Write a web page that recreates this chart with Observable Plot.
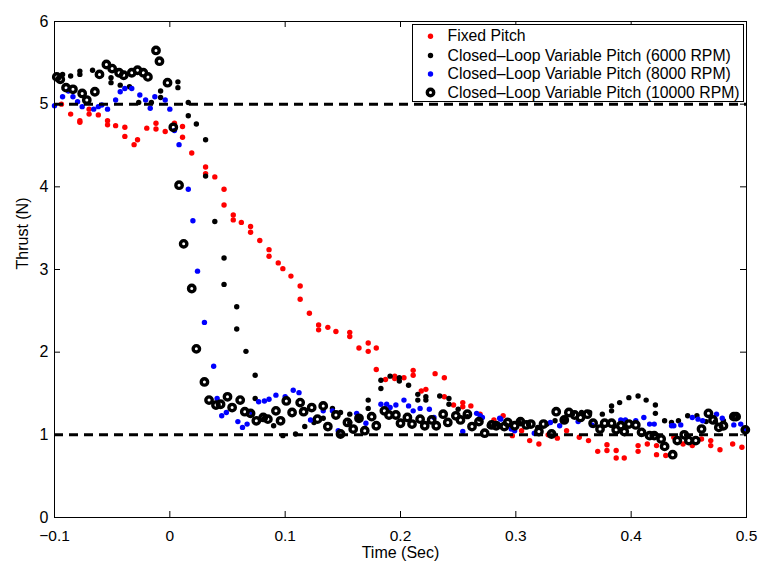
<!DOCTYPE html>
<html>
<head>
<meta charset="utf-8">
<script src="https://cdn.jsdelivr.net/npm/d3@7"></script>
<script src="https://cdn.jsdelivr.net/npm/@observablehq/plot@0.6"></script>
<style>
  html, body { margin: 0; padding: 0; background: #fff; }
  #chart { width: 771px; height: 570px; }
  svg { font-family: "Liberation Sans", Arial, Helvetica, sans-serif; }
</style>
</head>
<body>
<div id="chart"></div>
<script>
// ---- Data: [time (s), thrust (N)] ----
const fixedPitch = [
  [-0.094,5.00],[-0.086,4.88],[-0.078,4.80],[-0.078,4.78],[-0.070,4.94],[-0.070,4.88],[-0.062,4.87],[-0.054,4.80],[-0.054,4.75],
  [-0.047,4.74],[-0.039,4.72],[-0.039,4.61],[-0.031,4.51],[-0.028,4.57],[-0.020,4.71],[-0.012,4.77],[-0.012,4.70],[-0.004,4.67],
  [0.004,4.77],[0.011,4.73],[0.011,4.60],[0.019,4.41],[0.031,4.24],[0.031,4.16],[0.039,4.12],[0.047,3.97],[0.047,3.78],
  [0.055,3.66],[0.055,3.60],[0.062,3.57],[0.070,3.52],[0.070,3.45],[0.078,3.35],[0.086,3.24],[0.086,3.16],[0.094,3.08],
  [0.098,3.01],[0.105,2.92],[0.113,2.80],[0.113,2.64],[0.121,2.47],[0.129,2.33],[0.129,2.27],[0.137,2.30],[0.144,2.25],
  [0.156,2.24],[0.156,2.19],[0.164,2.05],[0.172,2.11],[0.172,2.01],[0.179,2.05],[0.179,1.79],[0.187,1.67],[0.195,1.71],
  [0.195,1.68],[0.203,1.69],[0.211,1.78],[0.211,1.72],[0.218,1.53],[0.222,1.55],[0.230,1.74],[0.238,1.69],[0.238,1.46],
  [0.246,1.36],[0.254,1.39],[0.254,1.34],[0.261,1.35],[0.269,1.25],[0.281,1.18],[0.289,1.23],[0.297,0.99],[0.305,1.05],
  [0.312,0.93],[0.320,0.89],[0.328,1.00],[0.336,0.96],[0.344,1.05],[0.355,0.97],[0.363,0.93],[0.371,0.80],[0.379,0.88],
  [0.379,0.81],[0.387,0.81],[0.387,0.72],[0.394,0.72],[0.406,0.87],[0.406,0.80],[0.414,0.89],[0.422,0.87],[0.422,0.76],
  [0.430,0.75],[0.437,0.97],[0.445,0.89],[0.453,0.87],[0.461,0.95],[0.469,0.93],[0.469,0.87],[0.477,0.82],[0.488,0.89],
  [0.496,0.85]
];

const rpm6000 = [
  [-0.093,5.36],[-0.086,5.34],[-0.078,5.40],[-0.078,5.36],[-0.067,5.41],[-0.051,5.32],[-0.051,5.26],[-0.043,5.23],
  [-0.035,5.21],[-0.027,5.02],[-0.016,5.02],[-0.008,5.16],[-0.008,5.08],[0.007,5.27],[0.007,5.20],[0.016,5.02],
  [0.016,4.86],[0.023,4.76],[0.031,4.57],[0.031,4.13],[0.039,3.58],[0.047,3.14],[0.047,2.82],[0.058,2.55],[0.058,2.28],
  [0.066,2.01],[0.074,1.72],[0.074,1.44],[0.082,1.20],[0.090,1.11],[0.098,0.99],[0.109,1.01],[0.117,1.10],[0.125,1.15],
  [0.133,1.20],[0.141,1.32],[0.148,1.27],[0.156,1.25],[0.156,1.15],[0.164,1.20],[0.172,1.42],[0.172,1.32],[0.183,1.66],
  [0.183,1.56],[0.191,1.71],[0.199,1.69],[0.199,1.65],[0.207,1.60],[0.215,1.49],[0.215,1.42],[0.222,1.46],[0.222,1.42],
  [0.234,1.47],[0.242,1.44],[0.242,1.37],[0.250,1.31],[0.258,1.22],[0.269,1.19],[0.277,1.11],[0.285,1.12],[0.295,1.11],
  [0.303,1.15],[0.311,1.13],[0.319,1.09],[0.327,1.13],[0.334,1.17],[0.342,1.17],[0.349,1.25],[0.357,1.27],[0.364,1.27],
  [0.375,1.25],[0.383,1.35],[0.383,1.29],[0.390,1.39],[0.398,1.45],[0.406,1.47],[0.413,1.42],[0.421,1.36],[0.421,1.26],
  [0.429,1.17],[0.435,1.15],[0.441,1.17],[0.449,1.23],[0.457,1.23],[0.465,1.16],[0.473,1.16],[0.480,1.17],[0.488,1.23]
];

const rpm8000 = [
  [-0.100,4.98],[-0.093,5.09],[-0.088,5.16],[-0.084,5.09],[-0.080,5.03],[-0.076,4.97],[-0.066,4.94],[-0.062,4.97],
  [-0.059,4.99],[-0.054,4.94],[-0.047,5.05],[-0.043,5.15],[-0.039,5.19],[-0.033,5.19],[-0.026,5.11],[-0.021,5.05],
  [-0.017,4.95],[-0.013,5.09],[-0.004,5.05],[0.000,4.94],[0.004,4.68],[0.008,4.51],[0.016,3.97],[0.020,3.59],
  [0.024,2.98],[0.030,2.36],[0.038,1.83],[0.041,1.44],[0.045,1.23],[0.049,1.27],[0.059,1.16],[0.063,1.09],[0.067,1.13],
  [0.071,1.27],[0.077,1.40],[0.082,1.41],[0.086,1.43],[0.092,1.48],[0.100,1.46],[0.107,1.54],[0.112,1.51],[0.122,1.18],
  [0.133,1.29],[0.141,1.29],[0.146,1.05],[0.162,1.26],[0.170,1.14],[0.183,1.37],[0.188,1.37],[0.191,1.33],[0.196,1.36],
  [0.203,1.42],[0.207,1.35],[0.211,1.29],[0.217,1.32],[0.225,1.31],[0.229,1.21],[0.254,1.04],[0.266,1.26],[0.269,1.23],
  [0.271,1.21],[0.286,1.20],[0.287,1.19],[0.296,1.07],[0.299,1.05],[0.316,1.02],[0.330,1.15],[0.338,1.11],[0.354,1.16],
  [0.366,1.12],[0.391,1.18],[0.395,1.18],[0.404,1.17],[0.411,1.21],[0.416,1.13],[0.420,1.13],[0.435,1.11],[0.437,1.11],
  [0.443,1.12],[0.453,1.21],[0.458,1.19],[0.462,1.17],[0.474,1.25],[0.479,1.20],[0.489,1.12],[0.495,1.13],[0.498,1.07]
];

const rpm10000 = [
  [-0.098,5.33],[-0.095,5.30],[-0.090,5.20],[-0.084,5.18],[-0.076,5.13],[-0.072,5.05],[-0.065,5.15],[-0.061,5.36],
  [-0.055,5.48],[-0.050,5.43],[-0.044,5.38],[-0.040,5.35],[-0.033,5.38],[-0.028,5.41],[-0.023,5.38],[-0.019,5.33],
  [-0.012,5.65],[-0.009,5.52],[-0.002,5.26],[0.003,4.72],[0.008,4.02],[0.012,3.31],[0.019,2.77],[0.023,2.04],
  [0.030,1.64],[0.034,1.42],[0.040,1.36],[0.044,1.37],[0.050,1.46],[0.054,1.33],[0.061,1.42],[0.065,1.28],[0.070,1.26],
  [0.075,1.17],[0.081,1.21],[0.085,1.19],[0.092,1.29],[0.096,1.17],[0.101,1.41],[0.106,1.27],[0.113,1.39],[0.116,1.28],
  [0.123,1.33],[0.128,1.19],[0.133,1.35],[0.137,1.10],[0.144,1.24],[0.148,1.01],[0.154,1.15],[0.159,1.07],[0.164,1.20],
  [0.169,1.05],[0.175,1.22],[0.179,1.11],[0.186,1.29],[0.190,1.24],[0.196,1.24],[0.200,1.14],[0.206,1.21],[0.210,1.13],
  [0.217,1.19],[0.221,1.11],[0.227,1.18],[0.231,1.11],[0.237,1.25],[0.241,1.15],[0.248,1.23],[0.252,1.18],[0.258,1.25],
  [0.262,1.10],[0.268,1.16],[0.273,1.02],[0.279,1.12],[0.283,1.11],[0.290,1.10],[0.293,1.15],[0.299,1.11],[0.304,1.16],
  [0.309,1.12],[0.313,1.13],[0.320,1.04],[0.324,1.13],[0.331,1.01],[0.335,1.28],[0.342,1.18],[0.346,1.27],[0.351,1.24],
  [0.356,1.21],[0.362,1.25],[0.367,1.14],[0.373,1.07],[0.377,1.14],[0.383,1.14],[0.387,1.06],[0.391,1.11],[0.394,1.04],
  [0.398,1.13],[0.404,1.12],[0.409,1.03],[0.416,0.99],[0.420,0.99],[0.426,0.95],[0.429,0.86],[0.436,0.76],[0.440,0.93],
  [0.446,1.00],[0.450,0.93],[0.456,0.93],[0.461,1.07],[0.467,1.26],[0.471,1.18],[0.476,1.09],[0.480,1.11],[0.489,1.22],
  [0.491,1.22],[0.499,1.06]
];

const referenceLevels = [1, 5];
const xTicks = [-0.1, 0, 0.1, 0.2, 0.3, 0.4, 0.5];
const xTickLabels = ["\u22120.1", "0", "0.1", "0.2", "0.3", "0.4", "0.5"];
const yTicks = [0, 1, 2, 3, 4, 5, 6];
const yTickLabels = ["0", "1", "2", "3", "4", "5", "6"];
const legendLabels = [
  "Fixed Pitch",
  "Closed\u2013Loop Variable Pitch (6000 RPM)",
  "Closed\u2013Loop Variable Pitch (8000 RPM)",
  "Closed\u2013Loop Variable Pitch (10000 RPM)"
];
const xLabel = "Time (Sec)";
const yLabel = "Thrust (N)";

// ---- Layout ----
const W = 771, H = 570;
const mL = 54, mR = 25, mT = 21, mB = 53;
const fw = W - mL - mR, fh = H - mT - mB;
const tick = 6;

const smallDot = {r: 2.7, strokeWidth: 0};
const ringDot = {r: 3.2, fill: "none", stroke: "black", strokeWidth: 3.4};

const legendStyles = [
  {fill: "red", ...smallDot},
  {fill: "black", ...smallDot},
  {fill: "blue", ...smallDot},
  {...ringDot}
];
const legendRowDy = [14.7, 34, 52.5, 71];

const legendMarks = [];
legendLabels.forEach((lab, i) => {
  legendMarks.push(Plot.dot([lab], {frameAnchor: "top-left", dx: 376, dy: legendRowDy[i], ...legendStyles[i]}));
  legendMarks.push(Plot.text([lab], {frameAnchor: "top-left", dx: 393, dy: legendRowDy[i], textAnchor: "start", lineAnchor: "middle", fontSize: 15.8, fill: "black"}));
});

const chart = Plot.plot({
  width: W, height: H,
  marginLeft: mL, marginRight: mR, marginTop: mT, marginBottom: mB,
  style: {fontFamily: '"Liberation Sans", Arial, Helvetica, sans-serif', background: "white", color: "black"},
  x: {domain: [-0.1, 0.5], label: null},
  y: {domain: [0, 6], label: null},
  marks: [
    // data
    Plot.dot(fixedPitch, {x: d => d[0], y: d => d[1], fill: "red", ...smallDot}),
    Plot.dot(rpm6000, {x: d => d[0], y: d => d[1], fill: "black", ...smallDot}),
    Plot.dot(rpm8000, {x: d => d[0], y: d => d[1], fill: "blue", ...smallDot}),
    Plot.dot(rpm10000, {x: d => d[0], y: d => d[1], ...ringDot}),
    // reference lines
    Plot.ruleY(referenceLevels, {y: d => d, stroke: "black", strokeWidth: 3, strokeDasharray: "9,6"}),
    // frame & inward ticks on all four sides
    Plot.frame({stroke: "black", strokeWidth: 1}),
    Plot.ruleX(xTicks, {x: d => d, insetTop: fh - tick, stroke: "black"}),
    Plot.ruleX(xTicks, {x: d => d, insetBottom: fh - tick, stroke: "black"}),
    Plot.ruleY(yTicks, {y: d => d, insetRight: fw - tick, stroke: "black"}),
    Plot.ruleY(yTicks, {y: d => d, insetLeft: fw - tick, stroke: "black"}),
    // axes (labels only)
    Plot.axisX(xTicks, {tickSize: 0, tickPadding: 12, fontSize: 15.5, tickFormat: (d, i) => xTickLabels[i]}),
    Plot.axisY(yTicks, {tickSize: 0, tickPadding: 6, fontSize: 16, tickFormat: (d, i) => yTickLabels[i]}),
    Plot.text([xLabel], {frameAnchor: "bottom", dy: 35, lineAnchor: "middle", fontSize: 16, fill: "black"}),
    Plot.text([yLabel], {frameAnchor: "left", dx: -32, rotate: -90, fontSize: 16, fill: "black"}),
    // legend
    Plot.frame({insetLeft: 358, insetTop: 3, insetRight: 3, insetBottom: fh - 80, fill: "white", stroke: "black", strokeWidth: 1}),
    ...legendMarks
  ]
});
document.getElementById("chart").appendChild(chart);
</script>
</body>
</html>
